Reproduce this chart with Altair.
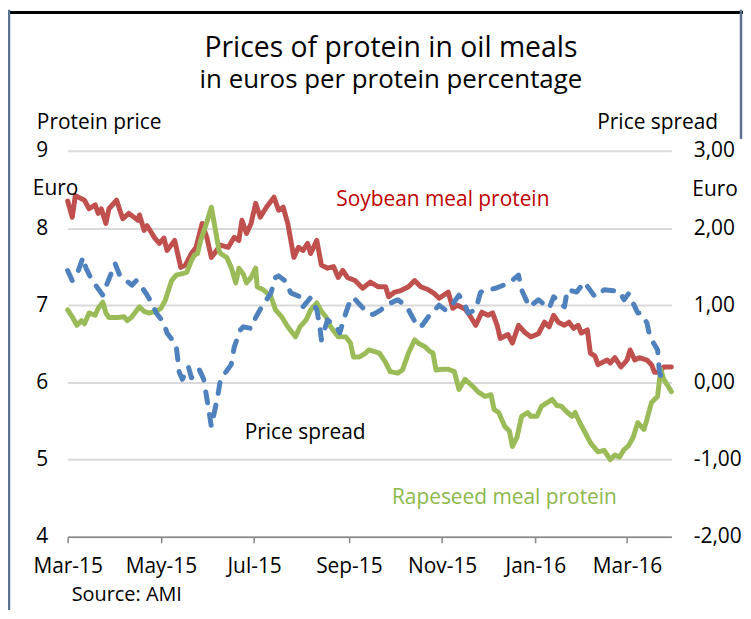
import altair as alt
import pandas as pd

FONT = "Open Sans"

# ---- data (days after 2015-03-01) ----
soy_days = [0, 3, 5, 11, 14, 18, 20, 22, 25, 27, 32, 36, 40, 46, 47, 50, 52, 57, 60, 63, 65, 70, 74, 77, 81, 84,
            88, 91, 94, 96, 100, 105, 109, 112, 114, 117, 120, 123, 126, 130, 135, 138, 141, 144, 148, 151, 154,
            157, 159, 163, 166, 170, 174, 177, 180, 183, 188, 193, 198, 203, 208, 210, 214, 218, 223, 227, 231,
            236, 240, 243, 249, 252, 255, 260, 263, 267, 271, 275, 278, 281, 283, 288, 291, 295, 299, 303, 308,
            312, 315, 318, 321, 325, 328, 331, 334, 336, 340, 342, 345, 347, 351, 353, 355, 358, 362, 366, 368,
            371, 374, 379, 382, 384, 387, 390, 395]
soy_vals = [8.35, 8.14, 8.42, 8.36, 8.25, 8.30, 8.19, 8.25, 8.06, 8.25, 8.36, 8.12, 8.19, 8.10, 8.17, 7.97, 8.03,
            7.87, 7.80, 7.87, 7.71, 7.84, 7.49, 7.52, 7.67, 7.75, 8.06, 7.88, 7.62, 7.67, 7.78, 7.75, 7.88, 7.84,
            8.10, 7.93, 8.06, 8.32, 8.14, 8.27, 8.40, 8.23, 8.27, 8.06, 7.62, 7.75, 7.71, 7.80, 7.67, 7.84, 7.52,
            7.48, 7.50, 7.36, 7.45, 7.36, 7.32, 7.22, 7.30, 7.24, 7.24, 7.11, 7.17, 7.19, 7.24, 7.32, 7.24, 7.20,
            7.15, 7.09, 7.17, 6.96, 7.00, 6.95, 6.87, 6.74, 6.91, 6.87, 6.90, 6.74, 6.57, 6.62, 6.51, 6.74, 6.65,
            6.59, 6.63, 6.78, 6.72, 6.87, 6.78, 6.74, 6.78, 6.70, 6.74, 6.64, 6.68, 6.38, 6.34, 6.23, 6.27, 6.29,
            6.25, 6.32, 6.20, 6.29, 6.42, 6.29, 6.32, 6.29, 6.23, 6.13, 6.13, 6.20, 6.20]

rape_days = [0, 3, 6, 9, 11, 14, 18, 20, 23, 25, 27, 33, 37, 39, 42, 47, 50, 53, 58, 61, 64, 68, 71, 75, 78, 81,
             83, 85, 87, 90, 94, 96, 99, 100, 104, 107, 110, 112, 115, 117, 120, 123, 124, 128, 133, 136, 140,
             144, 149, 152, 156, 159, 163, 166, 169, 172, 177, 182, 185, 187, 191, 195, 197, 204, 208, 211, 216,
             219, 223, 227, 230, 234, 237, 239, 241, 245, 249, 253, 256, 260, 265, 269, 273, 277, 279, 282, 286,
             289, 291, 294, 297, 301, 303, 307, 310, 314, 317, 320, 323, 327, 330, 332, 335, 338, 342, 344, 347,
             351, 355, 358, 361, 364, 367, 370, 373, 377, 379, 382, 384, 386, 388, 390, 395]
rape_vals = [6.94, 6.85, 6.74, 6.80, 6.76, 6.90, 6.87, 6.96, 7.04, 6.90, 6.84, 6.84, 6.85, 6.80, 6.85, 6.98, 6.92,
             6.90, 6.92, 6.96, 7.07, 7.32, 7.39, 7.41, 7.43, 7.58, 7.65, 7.67, 7.84, 8.01, 8.27, 8.05, 7.71, 7.67,
             7.62, 7.49, 7.29, 7.48, 7.40, 7.29, 7.36, 7.48, 7.24, 7.20, 7.11, 6.94, 6.85, 6.72, 6.59, 6.72, 6.81,
             6.94, 7.03, 6.92, 6.85, 6.72, 6.59, 6.59, 6.51, 6.33, 6.33, 6.38, 6.42, 6.38, 6.26, 6.14, 6.12, 6.16,
             6.38, 6.55, 6.50, 6.46, 6.40, 6.38, 6.16, 6.17, 6.17, 6.14, 5.91, 6.04, 5.95, 5.87, 5.82, 5.84, 5.65,
             5.61, 5.43, 5.37, 5.17, 5.29, 5.56, 5.61, 5.56, 5.56, 5.69, 5.74, 5.78, 5.70, 5.69, 5.61, 5.56, 5.61,
             5.48, 5.37, 5.22, 5.17, 5.10, 5.12, 5.00, 5.06, 5.03, 5.13, 5.18, 5.29, 5.48, 5.39, 5.52, 5.74, 5.78,
             5.82, 6.17, 6.04, 5.88]

spread_days = [0, 3, 7, 10, 12, 16, 19, 23, 26, 31, 34, 42, 45, 47, 52, 55, 58, 63, 65, 70, 71, 73, 75, 79, 81,
               86, 89, 92, 94, 98, 100, 107, 109, 113, 115, 120, 123, 127, 133, 136, 138, 142, 146, 152, 154, 159,
               163, 165, 166, 170, 176, 178, 182, 185, 187, 196, 200, 205, 208, 216, 221, 223, 229, 232, 236, 243,
               247, 250, 256, 260, 262, 267, 270, 271, 280, 289, 295, 297, 302, 308, 315, 318, 325, 327, 333, 338,
               345, 351, 361, 364, 367, 373, 375, 379, 381, 386, 387, 388]
spread_vals = [1.45, 1.32, 1.45, 1.62, 1.48, 1.32, 1.24, 1.13, 1.29, 1.54, 1.39, 1.26, 1.32, 1.28, 1.13, 1.03,
               0.90, 0.77, 0.64, 0.51, 0.48, 0.13, 0.04, 0.20, 0.06, 0.17, 0.04, -0.32, -0.57, -0.20, 0.04, 0.23,
               0.46, 0.68, 0.72, 0.70, 0.84, 0.98, 1.16, 1.36, 1.38, 1.32, 1.16, 1.11, 0.98, 1.10, 0.94, 0.72, 0.55,
               0.81, 0.72, 0.64, 0.90, 1.07, 1.10, 0.90, 0.88, 0.94, 1.00, 1.07, 1.00, 0.94, 0.72, 0.74, 0.85, 1.00,
               0.94, 0.96, 1.13, 1.00, 0.90, 0.94, 1.16, 1.18, 1.22, 1.29, 1.39, 1.20, 0.98, 1.07, 0.96, 1.11, 0.98,
               1.20, 1.17, 1.30, 1.11, 1.20, 1.18, 1.07, 1.15, 0.90, 0.90, 0.77, 0.59, 0.42, 0.17, 0.08]

tick_dates = ["2015-03-01", "2015-05-01", "2015-07-01", "2015-09-01", "2015-11-01", "2016-01-01", "2016-03-01"]
left_ticks = [4, 5, 6, 7, 8, 9]
right_ticks = [-2, -1, 0, 1, 2, 3]

START = pd.Timestamp("2015-03-01")


def frame(days, vals):
    return pd.DataFrame({"date": [START + pd.Timedelta(days=d) for d in days], "value": vals})


def dt(s):
    t = pd.Timestamp(s)
    return alt.DateTime(year=t.year, month=t.month, date=t.day)


x_enc = alt.X(
    "date:T",
    scale=alt.Scale(domain=[dt("2015-03-01"), dt("2016-03-30")], nice=False),
    axis=alt.Axis(values=[dt(s) for s in tick_dates], format="%b-%y", title=None, grid=False,
                  domainColor="#868686", domainWidth=1.5, tickColor="#868686", tickSize=6, tickWidth=1.5,
                  labelFont=FONT, labelFontSize=21, labelColor="black", labelPadding=13, labelOverlap=False,
                  labelFlush=False, labelBound=False),
)

left_axis = alt.Axis(values=left_ticks, title=None, grid=True, gridColor="#D9D9D9", gridWidth=2, domain=False,
                     ticks=False, labelFont=FONT, labelFontSize=21, labelColor="black", labelPadding=20)
left_scale = alt.Scale(domain=[4, 9], nice=False, zero=False)

soy = alt.Chart(frame(soy_days, soy_vals)).mark_line(
    color="#C0504D", strokeWidth=5, strokeJoin="round", strokeCap="round"
).encode(x=x_enc, y=alt.Y("value:Q", scale=left_scale, axis=left_axis))

rape = alt.Chart(frame(rape_days, rape_vals)).mark_line(
    color="#9BBB59", strokeWidth=5, strokeJoin="round", strokeCap="round"
).encode(x=x_enc, y=alt.Y("value:Q", scale=left_scale, axis=left_axis))

spread = alt.Chart(frame(spread_days, spread_vals)).mark_line(
    color="#4F81BD", strokeWidth=5, strokeDash=[11, 12], strokeCap="round", strokeJoin="round"
).encode(
    x=x_enc,
    y=alt.Y("value:Q", scale=alt.Scale(domain=[-2, 3], nice=False, zero=False),
            axis=alt.Axis(orient="right", values=right_ticks, title=None, grid=False, domain=False, ticks=False,
                          labelFont=FONT, labelFontSize=21, labelColor="black", labelPadding=22,
                          labelExpr="(datum.value < 0 ? '-' : '') + replace(format(abs(datum.value), '.2f'), '.', ',')")),
)


def label(text, x, y, size=21, color="black", align="left", weight="normal"):
    return alt.Chart(pd.DataFrame({"t": [text]})).mark_text(
        align=align, baseline="alphabetic", font=FONT, fontSize=size, color=color, fontWeight=weight
    ).encode(x=alt.value(x), y=alt.value(y), text="t:N")


def rule(x, x2, y, y2, color, width):
    return alt.Chart(pd.DataFrame({"a": [0]})).mark_rule(color=color, strokeWidth=width).encode(
        x=alt.value(x), x2=alt.value(x2), y=alt.value(y), y2=alt.value(y2))


texts = [
    label("Prices of protein in oil meals", 325, -94, size=28.5, align="center"),
    label("in euros per protein percentage", 325, -63, size=26, align="center"),
    label("Protein price", -31, -22),
    label("Price spread", 654, -22, align="right"),
    label("Euro", -35, 44),
    label("Euro", 628, 45),
    label("Soybean meal protein", 270, 55, color="#C00000"),
    label("Price spread", 178, 290),
    label("Rapeseed meal protein", 326, 355, color="#8DB84A"),
    label("Source: AMI", 4, 453, size=20),
]

borders = [
    rule(-60, 680, -139, -139, "black", 3),
    rule(-59, -59, -142, 462, "#5B7393", 2.5),
    rule(677, 677, -142, -12, "#5B7393", 2.5),
]

lines_left = alt.layer(soy, rape)
chart = alt.layer(lines_left, spread, *texts, *borders).resolve_scale(y="independent").properties(
    width=607,
    height=388,
    autosize=alt.AutoSizeParams(type="none"),
    padding={"left": 60, "top": 142, "right": 72, "bottom": 72},
    background="white",
).configure_view(stroke=None)

chart.save("out.html", embed_options={"renderer": "svg", "actions": False})
